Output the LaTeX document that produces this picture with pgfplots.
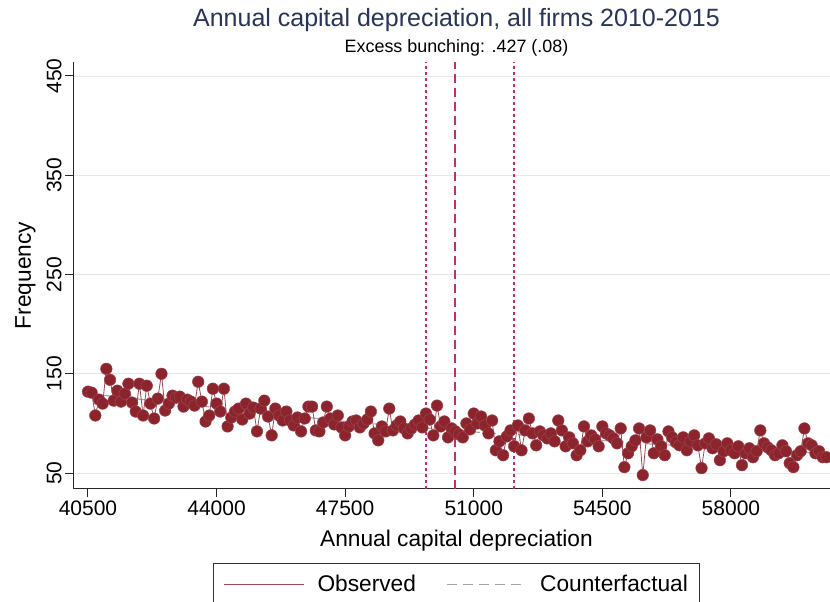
\documentclass[border=0pt]{standalone}
\usepackage{pgfplots}
\pgfplotsset{compat=1.18}
\usepackage{pgfplotstable}
\usepackage{fontspec}
\setmainfont{Liberation Sans}
\definecolor{obsmark}{RGB}{140,36,46}
\definecolor{obsline}{RGB}{160,70,85}
\definecolor{cfline}{RGB}{165,165,165}
\definecolor{vline}{RGB}{198,45,105}
\definecolor{titlecol}{RGB}{40,52,88}
\pgfplotstableread{
x y
40500 132
40600 131
40700 108
40800 124
40900 120
41000 155
41100 144
41200 123
41300 133
41400 122
41500 130
41600 140
41700 121
41800 112
41900 140
42000 108
42100 138
42200 120
42300 105
42400 125
42500 150
42600 113
42700 120
42800 128
42900 126
43000 127
43100 117
43200 124
43300 122
43400 118
43500 142
43600 122
43700 102
43800 108
43900 135
44000 120
44100 112
44200 135
44300 97
44400 106
44500 112
44600 115
44700 104
44800 120
44900 110
45000 116
45100 92
45200 115
45300 123
45400 107
45500 88
45600 115
45700 108
45800 103
45900 112
46000 103
46100 98
46200 106
46300 92
46400 105
46500 117
46600 117
46700 93
46800 92
46900 101
47000 117
47100 105
47200 99
47300 108
47400 96
47500 88
47600 97
47700 102
47800 103
47900 96
48000 100
48100 104
48200 112
48300 90
48400 83
48500 97
48600 92
48700 115
48800 93
48900 98
49000 102
49100 95
49200 90
49300 95
49400 99
49500 103
49600 96
49700 110
49800 104
49900 88
50000 118
50100 97
50200 102
50300 86
50400 95
50500 92
50600 89
50700 86
50800 100
50900 94
51000 110
51100 100
51200 107
51300 98
51400 90
51500 103
51600 73
51700 82
51800 68
51900 87
52000 93
52100 77
52200 98
52300 73
52400 93
52500 105
52600 90
52700 78
52800 92
52900 88
53000 85
53100 90
53200 82
53300 103
53400 93
53500 77
53600 86
53700 80
53800 68
53900 73
54000 97
54100 82
54200 88
54300 84
54400 77
54500 97
54600 90
54700 88
54800 85
54900 80
55000 95
55100 56
55200 70
55300 77
55400 83
55500 95
55600 48
55700 86
55800 93
55900 70
56000 84
56100 77
56200 68
56300 92
56400 86
56500 81
56600 78
56700 86
56800 73
56900 82
57000 88
57100 78
57200 55
57300 80
57400 85
57500 75
57600 79
57700 63
57800 72
57900 80
58000 73
58100 70
58200 77
58300 58
58400 70
58500 75
58600 66
58700 72
58800 93
58900 80
59000 76
59100 73
59200 68
59300 70
59400 78
59500 72
59600 60
59700 56
59800 68
59900 72
60000 95
60100 80
60200 78
60300 70
60400 72
60500 66
60600 66
}\obs
\pgfplotstableread{
x y
40500 130
41500 126
42500 122
43500 118
44500 114
45500 110
46500 106
47500 102
48500 99
49500 96
50500 93
51500 90
52500 88
53500 85
54500 83
55500 80
56500 78
57500 76
58500 74
59500 72
60600 70
}\cf
\begin{document}
\begin{tikzpicture}
\path[use as bounding box] (0,0) rectangle (830pt,602pt);
\begin{axis}[
  at={(73pt,113pt)}, anchor=south west,
  scale only axis, width=767pt, height=427pt,
  xmin=40092, xmax=60969, ymin=34, ymax=464,
  axis x line*=bottom, axis y line*=left,
  axis line style={line width=1pt, black!85},
  xtick={40500,44000,47500,51000,54500,58000},
  ytick={50,150,250,350,450},
  scaled x ticks=false,
  xticklabel style={/pgf/number format/1000 sep={}},
  /pgf/number format/assume math mode=true,
  tick align=outside, major tick length=8pt,
  tick style={line width=1pt, black!85},
  ymajorgrids, major grid style={line width=0.8pt, black!9},
  ticklabel style={font=\fontsize{21}{25}\selectfont},
  yticklabel style={rotate=90, anchor=south},
  xlabel={Annual capital depreciation},
  ylabel={Frequency},
  label style={font=\fontsize{22.7}{27}\selectfont},
  xlabel style={at={(axis description cs:0.5,-0.1358)}, anchor=base},
  ylabel style={at={(axis description cs:-0.0548,0.5)}, anchor=base},
  legend style={at={(0.5,-0.1733)}, anchor=north, draw=black!80, line width=0.8pt,
    font=\fontsize{22.7}{27}\selectfont, inner xsep=9.5pt, inner ysep=10pt,
    /tikz/every odd column/.append style={column sep=11pt},
    /tikz/every even column/.append style={column sep=28pt}},
  legend columns=2,
  legend cell align=left,
  legend image code/.code={\draw[#1] (0pt,0pt) -- (80pt,0pt);},
]
\addlegendimage{draw=obsline, line width=1.4pt}
\addlegendentry{Observed}
\addlegendimage{draw=cfline, line width=1.3pt, dash pattern=on 10pt off 6pt}
\addlegendentry{Counterfactual}
\addplot[vline, line width=1.8pt, dash pattern=on 3pt off 3pt, forget plot] coordinates {(49700,34) (49700,464)};
\addplot[vline, line width=1.8pt, dash pattern=on 9pt off 5pt, forget plot] coordinates {(50500,34) (50500,464)};
\addplot[vline, line width=1.8pt, dash pattern=on 3pt off 3pt, forget plot] coordinates {(52100,34) (52100,464)};
\addplot[cfline, line width=1.2pt, dash pattern=on 10pt off 6pt, forget plot] table[x=x,y=y] {\cf};
\addplot[obsline, line width=0.8pt, mark=*, mark size=5.8pt,
  mark options={solid, fill=obsmark, draw=obsmark!85!white, line width=0.5pt}, forget plot] table[x=x,y=y] {\obs};
\end{axis}
\node[anchor=base, text=titlecol, font=\fontsize{25}{30}\selectfont] at (456.5pt,575pt) {Annual capital depreciation, all firms 2010-2015};
\node[anchor=base, font=\fontsize{17.9}{21}\selectfont] at (456.5pt,549pt) {Excess bunching: .427 (.08)};
\end{tikzpicture}
\end{document}
